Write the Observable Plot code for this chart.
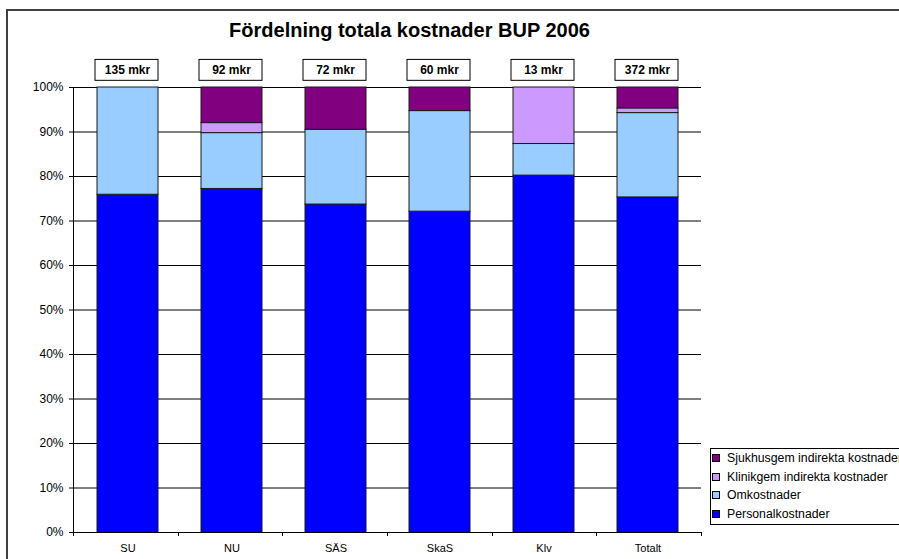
<!DOCTYPE html>
<html>
<head>
<meta charset="utf-8">
<script src="https://cdn.jsdelivr.net/npm/d3@7"></script>
<script src="https://cdn.jsdelivr.net/npm/@observablehq/plot@0.6"></script>
<style>
  html, body { margin: 0; padding: 0; background: #fff; overflow: hidden; }
  #wrap { position: relative; width: 899px; height: 559px; font-family: Arial, "Liberation Sans", sans-serif; }
  #frame { position: absolute; left: 6px; top: 9px; width: 1000px; height: 700px; border-left: 2px solid #404040; border-top: 2px solid #404040; }
  #title { position: absolute; left: 0; width: 819px; top: 20px; line-height: 20px; text-align: center; font-weight: bold; font-size: 20px; color: #000; }
  #legend { position: absolute; left: 710px; top: 448px; width: 300px; height: 75px; border: 1px solid #000; background: #fff; font-size: 12.3px; }
  .item { position: absolute; left: 0; height: 16px; line-height: 16px; white-space: nowrap; }
  .sw { position: absolute; left: 1px; top: 4px; width: 6px; height: 6px; border: 1px solid #000; }
  .lab { position: absolute; left: 16px; top: 0; }
  #chart { position: absolute; left: 0; top: 0; }
</style>
</head>
<body>
<div id="wrap">
  <div id="frame"></div>
  <div id="chart"></div>
  <div id="title">Fördelning totala kostnader BUP 2006</div>
  <div id="legend"></div>
</div>
<script>
const categories = ["SU", "NU", "SÄS", "SkaS", "Klv", "Totalt"];
const totals = ["135 mkr", "92 mkr", "72 mkr", "60 mkr", "13 mkr", "372 mkr"];
const personalkostnader = [75.9, 77.2, 73.7, 72.1, 80.2, 75.3];
const omkostnader = [24.1, 12.55, 16.8, 22.6, 7.1, 18.95];
const klinikgem = [0, 2.25, 0, 0, 12.7, 1.05];
const sjukhusgem = [0, 8.0, 9.5, 5.3, 0, 4.7];
const seriesNames = ["Personalkostnader", "Omkostnader", "Klinikgem indirekta kostnader", "Sjukhusgem indirekta kostnader"];
const seriesColors = ["#0000FF", "#99CCFF", "#CC99FF", "#800080"];
const yTicks = [0, 10, 20, 30, 40, 50, 60, 70, 80, 90, 100];

const seriesValues = [personalkostnader, omkostnader, klinikgem, sjukhusgem];
const rows = [];
seriesNames.forEach((s, si) => {
  categories.forEach((c, ci) => {
    rows.push({category: c, series: s, value: seriesValues[si][ci]});
  });
});
const labelRows = categories.map((c, i) => ({category: c, text: totals[i]}));

const W = 899, H = 559, ML = 73, MR = 198, MT = 87, MB = 27;

const axisLines = (index, scales, values, dims) => {
  const g = d3.create("svg:g").attr("stroke", "#000").attr("stroke-width", 1);
  const x0 = dims.marginLeft, x1 = dims.width - dims.marginRight;
  const y0 = dims.height - dims.marginBottom, yTop = dims.marginTop;
  const n = categories.length;
  const step = (x1 - x0) / n;
  g.append("line").attr("x1", x0 + 0.5).attr("x2", x0 + 0.5).attr("y1", yTop).attr("y2", y0 + 4);
  g.append("line").attr("x1", x0).attr("x2", x1).attr("y1", y0 + 0.5).attr("y2", y0 + 0.5);
  for (let i = 0; i <= n; i++) {
    const xx = Math.round(x0 + i * step) + 0.5;
    g.append("line").attr("x1", xx).attr("x2", xx).attr("y1", y0).attr("y2", y0 + 4);
  }
  return g.node();
};

const chart = Plot.plot({
  width: W,
  height: H,
  marginLeft: ML,
  marginRight: MR,
  marginTop: MT,
  marginBottom: MB,
  style: {fontFamily: 'Arial, "Liberation Sans", sans-serif', background: "transparent", color: "#000"},
  x: {domain: categories, paddingInner: 0.415, paddingOuter: 0.2075, label: null},
  y: {domain: [0, 100], label: null},
  color: {domain: seriesNames, range: seriesColors},
  marks: [
    Plot.gridY(yTicks, {stroke: "#000", strokeOpacity: 1, strokeWidth: 1}),
    Plot.barY(rows.filter(d => d.value > 0), Plot.stackY({
      x: "category", y: "value", fill: "series", stroke: "#1a1a1a", strokeWidth: 1
    })),
    Plot.barY(labelRows, {x: "category", y1: 101.5, y2: 106.2, fill: "#fff", stroke: "#000", strokeWidth: 1, insetLeft: -2, insetRight: 0}),
    Plot.text(labelRows, {x: "category", y: 100, dy: -17.5, dx: -0.5, text: "text", fontWeight: "bold", fontSize: 12, fill: "#000"}),
    Plot.axisY({ticks: yTicks, tickFormat: d => d + "%", tickSize: 4, tickPadding: 6, fontSize: 12, label: null}),
    Plot.axisX({tickSize: 0, tickPadding: 12, fontSize: 11, label: null}),
    axisLines
  ]
});
document.getElementById("chart").appendChild(chart);

const legend = document.getElementById("legend");
const order = [3, 2, 1, 0];
order.forEach((si, k) => {
  const item = document.createElement("div");
  item.className = "item";
  item.style.top = (1 + k * 18.7) + "px";
  const sw = document.createElement("div");
  sw.className = "sw";
  sw.style.background = seriesColors[si];
  const lab = document.createElement("div");
  lab.className = "lab";
  lab.textContent = seriesNames[si];
  item.appendChild(sw);
  item.appendChild(lab);
  legend.appendChild(item);
});
</script>
</body>
</html>
